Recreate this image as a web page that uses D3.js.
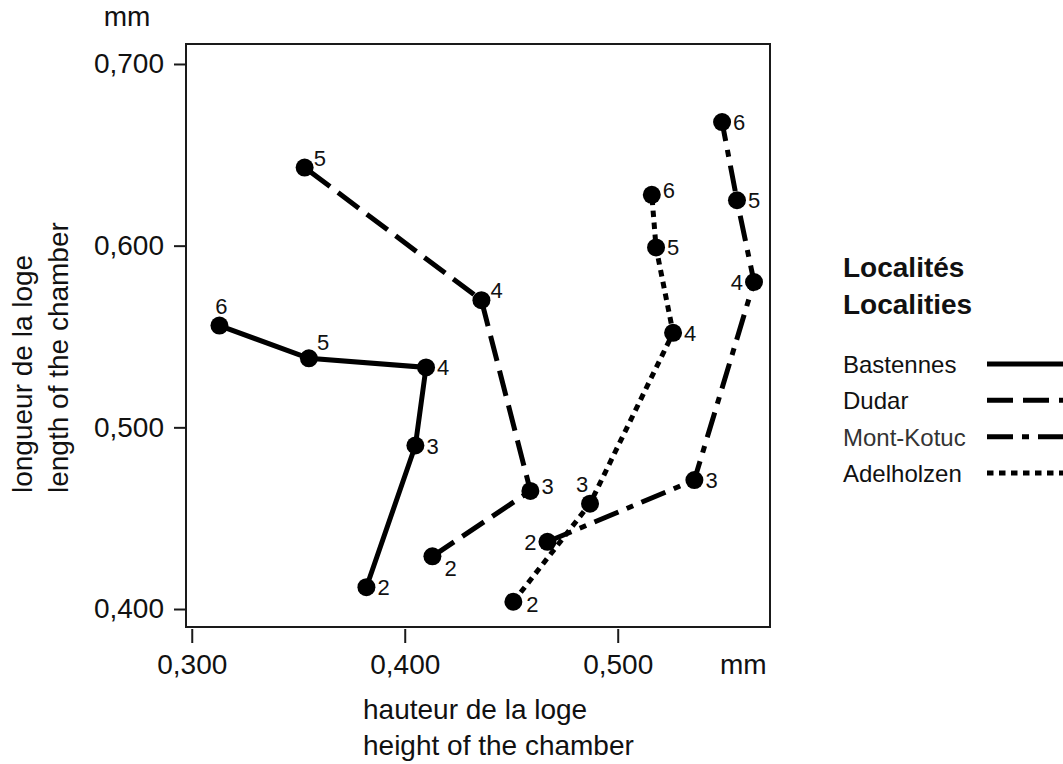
<!DOCTYPE html>
<html>
<head>
<meta charset="utf-8">
<script src="https://cdn.jsdelivr.net/npm/d3@7"></script>
<style>
  body { margin: 0; background: #fff; }
  svg { display: block; font-family: "Liberation Sans", Arial, sans-serif; }
</style>
</head>
<body>
<svg width="1063" height="764"></svg>
<script>
// chamber size by stage, per locality (mm)
const localities = ["Bastennes", "Dudar", "Mont-Kotuc", "Adelholzen"];

const bastennesStage = [2, 3, 4, 5, 6];
const bastennesHeight = [0.382, 0.405, 0.410, 0.355, 0.313];
const bastennesLength = [0.412, 0.490, 0.533, 0.538, 0.556];

const dudarStage = [2, 3, 4, 5];
const dudarHeight = [0.413, 0.459, 0.436, 0.353];
const dudarLength = [0.429, 0.465, 0.570, 0.643];

const kotucStage = [2, 3, 4, 5, 6];
const kotucHeight = [0.467, 0.536, 0.564, 0.556, 0.549];
const kotucLength = [0.437, 0.471, 0.580, 0.625, 0.668];

const adelStage = [2, 3, 4, 5, 6];
const adelHeight = [0.451, 0.487, 0.526, 0.518, 0.516];
const adelLength = [0.404, 0.458, 0.552, 0.599, 0.628];

const xTicks = [0.3, 0.4, 0.5];
const yTicks = [0.4, 0.5, 0.6, 0.7];

// where the stage number sits next to its dot
const labelSide = {
    "Bastennes": ["r", "r", "r", "ur2", "u"],
    "Dudar": ["dr", "r0", "ur", "ur"],
    "Mont-Kotuc": ["l", "r", "l", "r", "r"],
    "Adelholzen": ["r2", "ul", "r", "r", "r0"]
};
const sideOffset = {
    r: [11, 8, "start"], r0: [11, 3, "start"], r2: [13, 10, "start"],
    ur: [9, -2, "start"], ur2: [8, -8, "start"],
    u: [2, -12, "middle"], l: [-11, 8, "end"], ul: [-8, -12, "middle"],
    dr: [12, 20, "start"]
};
const dashes = {
    "Bastennes": null,
    "Dudar": "26,10",
    "Mont-Kotuc": "26,9,7,9",
    "Adelholzen": "6.5,5.5"
};

const zipSeries = (name, st, xs, ys) => ({
    name: name,
    points: st.map((s, i) => ({ stage: s, x: xs[i], y: ys[i] }))
});
const series = [
    zipSeries("Bastennes", bastennesStage, bastennesHeight, bastennesLength),
    zipSeries("Dudar", dudarStage, dudarHeight, dudarLength),
    zipSeries("Mont-Kotuc", kotucStage, kotucHeight, kotucLength),
    zipSeries("Adelholzen", adelStage, adelHeight, adelLength)
];

const svg = d3.select("svg");
const plot = { left: 186, right: 770, top: 44, bottom: 627 };

const x = d3.scaleLinear().domain([0.2973, 0.5715]).range([plot.left, plot.right]);
const y = d3.scaleLinear().domain([0.3901, 0.711]).range([plot.bottom, plot.top]);
const fmt = d => d3.format(".3f")(d).replace(".", ",");

// frame
svg.append("rect")
    .attr("x", plot.left).attr("y", plot.top)
    .attr("width", plot.right - plot.left).attr("height", plot.bottom - plot.top)
    .attr("fill", "none").attr("stroke", "#1a1a1a").attr("stroke-width", 2);

const xAxis = svg.append("g")
    .attr("transform", `translate(0,${plot.bottom + 2})`)
    .call(d3.axisBottom(x).tickValues(xTicks).tickFormat(fmt).tickSize(14).tickPadding(11))
    .call(g => g.select(".domain").remove());
const yAxis = svg.append("g")
    .attr("transform", `translate(${plot.left},0)`)
    .call(d3.axisLeft(y).tickValues(yTicks).tickFormat(fmt).tickSize(12).tickPadding(10))
    .call(g => g.select(".domain").remove());
[xAxis, yAxis].forEach(g => {
    g.selectAll("line").attr("stroke", "#1a1a1a").attr("stroke-width", 2);
    g.selectAll("text").attr("font-size", 28).attr("fill", "#111")
        .attr("font-family", "'Liberation Sans', Arial, sans-serif");
});

// units and axis titles
svg.append("text").attr("x", 127).attr("y", 26).attr("text-anchor", "middle")
    .attr("font-size", 28).attr("fill", "#111").text("mm");
svg.append("text").attr("x", 720).attr("y", 674)
    .attr("font-size", 28).attr("fill", "#111").text("mm");

const xTitle = svg.append("text").attr("x", 363).attr("font-size", 28).attr("fill", "#111");
xTitle.append("tspan").attr("x", 363).attr("y", 719).text("hauteur de la loge");
xTitle.append("tspan").attr("x", 363).attr("y", 755).text("height of the chamber");

const yTitle = svg.append("text").attr("transform", "rotate(-90)")
    .attr("font-size", 28).attr("fill", "#111");
yTitle.append("tspan").attr("x", -493).attr("y", 32).text("longueur de la loge");
yTitle.append("tspan").attr("x", -493).attr("y", 68).text("length of the chamber");

// lines
const line = d3.line().x(d => x(d.x)).y(d => y(d.y));
svg.append("g").selectAll("path")
    .data(series)
    .join("path")
        .attr("d", d => line(d.points))
        .attr("fill", "none")
        .attr("stroke", "#000")
        .attr("stroke-width", 5)
        .attr("stroke-dasharray", d => dashes[d.name]);

// dots and stage numbers
series.forEach(s => {
    const g = svg.append("g");
    g.selectAll("circle")
        .data(s.points)
        .join("circle")
            .attr("cx", d => x(d.x))
            .attr("cy", d => y(d.y))
            .attr("r", 9)
            .attr("fill", "#000");
    g.selectAll("text")
        .data(s.points)
        .join("text")
            .attr("x", (d, i) => x(d.x) + sideOffset[labelSide[s.name][i]][0])
            .attr("y", (d, i) => y(d.y) + sideOffset[labelSide[s.name][i]][1])
            .attr("text-anchor", (d, i) => sideOffset[labelSide[s.name][i]][2])
            .attr("font-size", 22)
            .attr("fill", "#111")
            .text(d => d.stage);
});

// legend
const legend = svg.append("g");
legend.append("text").attr("x", 843).attr("y", 277)
    .attr("font-size", 28).attr("font-weight", "bold").attr("fill", "#111").text("Localités");
legend.append("text").attr("x", 843).attr("y", 314)
    .attr("font-size", 28).attr("font-weight", "bold").attr("fill", "#111").text("Localities");

const legendY = d3.scalePoint().domain(localities).range([366, 475]);
const rows = legend.selectAll("g.row")
    .data(localities)
    .join("g")
        .attr("class", "row")
        .attr("transform", d => `translate(0,${legendY(d)})`);
rows.append("text")
    .attr("x", 843).attr("y", 7)
    .attr("font-size", 24)
    .attr("fill", d => d === "Mont-Kotuc" ? "#333" : "#111")
    .text(d => d);
rows.append("line")
    .attr("x1", 987).attr("x2", 1063)
    .attr("y1", -2).attr("y2", -2)
    .attr("stroke", "#000")
    .attr("stroke-width", 5)
    .attr("stroke-dasharray", d => dashes[d]);
</script>
</body>
</html>
